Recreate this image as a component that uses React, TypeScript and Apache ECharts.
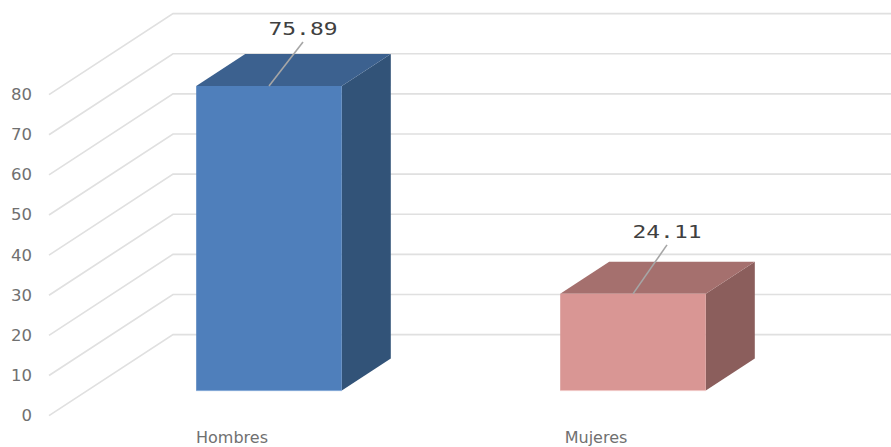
import React, { useEffect, useRef } from "react";
import * as echarts from "echarts";

const categories = ["Hombres", "Mujeres"];
const values = [75.89, 24.11];
const wallTicks = [0, 10, 20, 30, 40, 50, 60, 70, 80];
const frontColors = ["#4F7FBB", "#D99694"];
const topColors = ["#3C618F", "#A5706E"];
const sideColors = ["#325378", "#8B5E5C"];
const edgeColors = ["#7FA6D6", "#EFC6C4"];
const leaderRise = [44, 49];

const FONT = "'DejaVu Sans', sans-serif";

export default function App() {
  const ref = useRef<HTMLDivElement>(null);

  useEffect(() => {
    document.body.style.margin = "0";
    const chart = echarts.init(ref.current!, null, { renderer: "svg" });

    const renderWall = (params: any, api: any) => {
      const y = api.coord([0, api.value(1)])[1];
      const x0 = params.coordSys.x;
      const style = { stroke: "#E0E0E0", lineWidth: 1.7, fill: "none" };
      return {
        type: "polyline",
        silent: true,
        shape: { points: [[x0 - 1, y], [x0 + 123, y - 81], [895, y - 81]] },
        style,
      };
    };

    const renderBar = (params: any, api: any) => {
      const i = params.dataIndex;
      const base = api.coord([api.value(0), 0]);
      const top = api.coord([api.value(0), api.value(1)]);
      const band = api.size([1, 0])[0];
      const w = band * 0.4;
      const cx = base[0] + 37;
      const x1 = cx - w / 2;
      const x2 = cx + w / 2;
      const yb = base[1] - 25;
      const yt = top[1] - 25;
      const dx = 49;
      const dy = 32;
      const rise = leaderRise[i];
      return {
        type: "group",
        children: [
          {
            type: "polygon",
            shape: { points: [[x2, yb], [x2 + dx, yb - dy], [x2 + dx, yt - dy], [x2, yt]] },
            style: { fill: sideColors[i] },
          },
          {
            type: "polygon",
            shape: { points: [[x1, yt], [x1 + dx, yt - dy], [x2 + dx, yt - dy], [x2, yt]] },
            style: { fill: topColors[i] },
          },
          {
            type: "rect",
            shape: { x: x1, y: yt, width: w, height: yb - yt },
            style: { fill: frontColors[i] },
          },
          {
            type: "line",
            shape: { x1: x1, y1: yb, x2: x2, y2: yb },
            style: { stroke: edgeColors[i], lineWidth: 1 },
          },
          {
            type: "line",
            shape: { x1: cx, y1: yt, x2: cx + 34, y2: yt - rise },
            style: { stroke: "#A6A6A6", lineWidth: 1.6 },
          },
          {
            type: "text",
            x: cx + 34,
            y: yt - rise - 13,
            scaleX: 1.35,
            style: {
              text: values[i].toFixed(2),
              fill: "#404040",
              font: "17px 'DejaVu Sans Mono', monospace",
              align: "center",
              verticalAlign: "middle",
            },
          },
        ],
      };
    };

    chart.setOption({
      animation: false,
      backgroundColor: "#FFFFFF",
      grid: { left: 50, width: 728, top: 94.6, height: 321 },
      xAxis: {
        type: "category",
        data: categories,
        axisLine: { show: false },
        axisTick: { show: false },
        axisLabel: { color: "#707070", fontFamily: FONT, fontSize: 16, margin: 14 },
      },
      yAxis: {
        type: "value",
        min: 0,
        max: 80,
        interval: 10,
        axisLine: { show: false },
        axisTick: { show: false },
        splitLine: { show: false },
        axisLabel: { color: "#707070", fontFamily: FONT, fontSize: 16.5, margin: 18 },
      },
      series: [
        {
          type: "custom",
          clip: false,
          silent: true,
          z: 1,
          renderItem: renderWall,
          data: wallTicks.map((v) => [0, v]),
        },
        {
          type: "custom",
          clip: false,
          silent: true,
          z: 2,
          renderItem: renderBar,
          data: values.map((v, i) => [i, v]),
        },
      ],
    });
    return () => chart.dispose();
  }, []);

  return <div ref={ref} style={{ width: 891, height: 447 }} />;
}
